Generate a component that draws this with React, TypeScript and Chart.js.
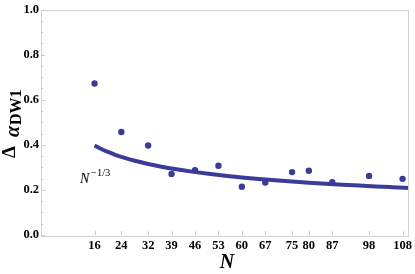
import React, { useEffect, useRef } from "react";
import { Chart, registerables } from "chart.js";
Chart.register(...registerables);

const sizes = [16, 24, 32, 39, 46, 53, 60, 67, 75, 80, 87, 98, 108];
const deltaAlpha = [0.672, 0.457, 0.397, 0.271, 0.287, 0.307, 0.214, 0.233, 0.279, 0.285, 0.234, 0.262, 0.249];
const curveN = [16, 18, 20, 22, 25, 28, 32, 36, 40, 45, 50, 55, 60, 65, 70, 75, 80, 85, 90, 95, 100, 105, 110];
const curveVals = [0.3969, 0.3816, 0.3684, 0.3569, 0.342, 0.3293, 0.315, 0.3029, 0.2924, 0.2811, 0.2714, 0.263, 0.2554, 0.2487, 0.2426, 0.2371, 0.2321, 0.2275, 0.2231, 0.2191, 0.2154, 0.212, 0.2087];
const yTicks = [0, 0.2, 0.4, 0.6, 0.8, 1.0];

const BLUE = "#3b3b9a";
const SERIF = "'Liberation Serif', 'DejaVu Serif', serif";

const decor = {
  id: "decor",
  afterDraw(chart: any) {
    const { ctx, chartArea: a, scales } = chart;
    const x = scales.x;
    const y = scales.y;
    ctx.save();
    ctx.strokeStyle = "#d2d2d2";
    ctx.lineWidth = 1;
    ctx.strokeRect(Math.round(a.left) + 0.5, Math.round(a.top) + 0.5, Math.round(a.right - a.left) - 1, Math.round(a.bottom - a.top));
    ctx.strokeStyle = "#c8c8c8";
    for (let i = 0; i <= 20; i++) {
      const py = Math.round(y.getPixelForValue(i * 0.05)) + 0.5;
      const len = i % 4 === 0 ? 4 : 2;
      ctx.beginPath();
      ctx.moveTo(a.left, py);
      ctx.lineTo(a.left + len, py);
      ctx.stroke();
    }
    sizes.forEach((n) => {
      const px = Math.round(x.getPixelForValue(n)) + 0.5;
      ctx.beginPath();
      ctx.moveTo(px, a.bottom);
      ctx.lineTo(px, a.bottom - 4);
      ctx.stroke();
    });
    ctx.fillStyle = "#000";
    // N^{-1/3} label
    ctx.font = `italic 14px ${SERIF}`;
    ctx.textAlign = "left";
    ctx.textBaseline = "alphabetic";
    ctx.fillText("N", 80, 183);
    ctx.font = `10.5px ${SERIF}`;
    ctx.fillText("\u22121/3", 91, 176);
    // x axis title
    ctx.font = `bold italic 20px ${SERIF}`;
    ctx.textAlign = "center";
    ctx.fillText("N", 227, 268);
    // y axis title pieces (rotated)
    const piece = (t: string, font: string, bx: number, sy: number) => {
      ctx.save();
      ctx.translate(bx, sy);
      ctx.rotate(-Math.PI / 2);
      ctx.font = font;
      ctx.textAlign = "left";
      ctx.fillText(t, 0, 0);
      ctx.restore();
    };
    piece("\u0394", `bold 19px ${SERIF}`, 15, 158);
    piece("\u03b1", `bold italic 20px ${SERIF}`, 19, 137);
    piece("DW1", `bold 16px ${SERIF}`, 21, 125);
    ctx.restore();
  },
};

export default function App() {
  const ref = useRef<HTMLCanvasElement>(null);
  useEffect(() => {
    const chart = new Chart(ref.current!, {
      type: "scatter",
      data: {
        datasets: [
          {
            type: "line",
            data: curveN.map((n, i) => ({ x: n, y: curveVals[i] })),
            borderColor: BLUE,
            borderWidth: 4,
            pointRadius: 0,
            cubicInterpolationMode: "monotone",
            fill: false,
          } as any,
          {
            data: sizes.map((n, i) => ({ x: n, y: deltaAlpha[i] })),
            backgroundColor: BLUE,
            borderColor: BLUE,
            pointRadius: 3.2,
            borderWidth: 0,
          },
        ],
      },
      options: {
        responsive: false,
        animation: false,
        layout: { padding: { top: 6, right: 4, left: 0, bottom: 0 } },
        plugins: { legend: { display: false }, tooltip: { enabled: false } },
        scales: {
          x: {
            type: "linear",
            min: 0,
            max: 110,
            grid: { display: false, drawTicks: false },
            border: { display: false },
            afterBuildTicks: (s: any) => {
              s.ticks = sizes.map((v) => ({ value: v }));
            },
            afterFit: (s: any) => {
              s.height = 39;
            },
            ticks: {
              autoSkip: false,
              maxRotation: 0,
              padding: 3,
              color: "#000",
              font: { family: SERIF, size: 12.5, weight: "bold" },
              callback: (v: any) => String(v),
            },
          },
          y: {
            min: 0,
            max: 1,
            grid: { display: false, drawTicks: false },
            border: { display: false },
            afterBuildTicks: (s: any) => {
              s.ticks = yTicks.map((v) => ({ value: v }));
            },
            afterFit: (s: any) => {
              s.width = 41;
            },
            ticks: {
              padding: 2,
              color: "#000",
              font: { family: SERIF, size: 12.5, weight: "bold" },
              callback: (v: any) => Number(v).toFixed(1),
            },
          },
        },
      },
      plugins: [decor],
    } as any);
    return () => chart.destroy();
  }, []);
  return (
    <div style={{ position: "fixed", left: 0, top: 0, width: 415, height: 274, background: "#fff" }}>
      <canvas ref={ref} width={415} height={274} />
    </div>
  );
}
